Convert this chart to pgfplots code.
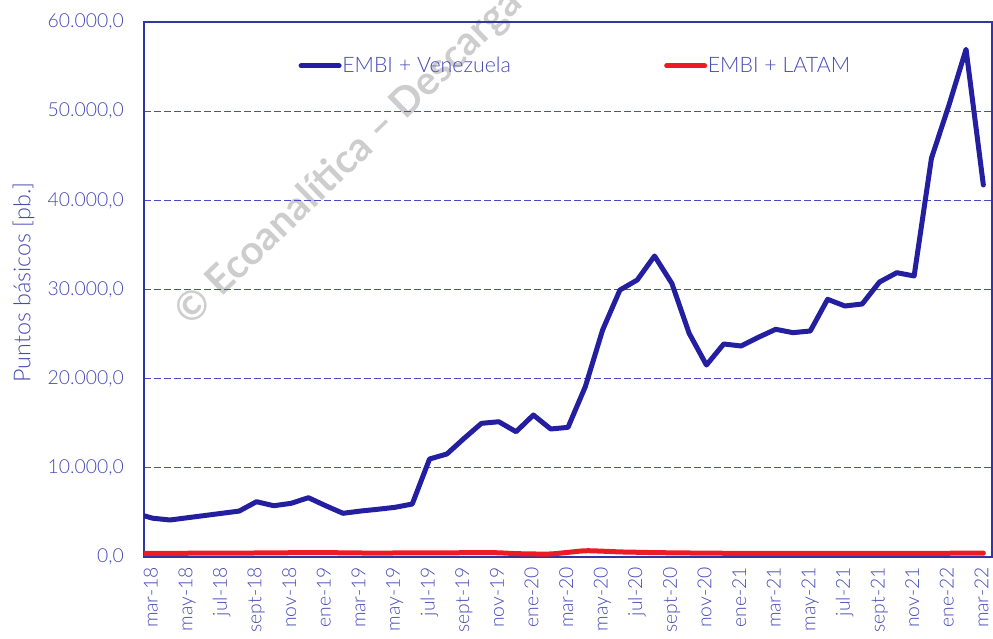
\documentclass[border=0pt]{standalone}
\usepackage{fontspec}
\setmainfont{Lato}[UprightFont={* Light}, BoldFont={* Bold}]
\usepackage{pgfplots}
\pgfplotsset{compat=1.18}
\definecolor{lineblue}{RGB}{35,31,160}
\definecolor{embired}{RGB}{237,28,36}
\definecolor{axblue}{RGB}{50,52,170}
\definecolor{gridblue}{RGB}{72,76,192}
\definecolor{txtblue}{RGB}{70,74,182}
\definecolor{wmgray}{RGB}{205,205,205}
\newcommand{\lblfont}{\fontsize{14.5}{17}\selectfont}

\begin{document}
\begin{tikzpicture}
% watermark, behind everything
\node[rotate=44, anchor=base west, text=wmgray, inner sep=0pt,
      font=\fontsize{30}{30}\selectfont\bfseries] at (35pt,172pt) {© Ecoanalítica – Descarga};
\begin{axis}[
  scale only axis,
  width=636pt, height=401.25pt,
  xmin=-0.5, xmax=48.5,
  ymin=0, ymax=60000,
  xtick={0,2,...,48},
  xticklabels={mar-18,may-18,jul-18,sept-18,nov-18,ene-19,mar-19,may-19,jul-19,sept-19,nov-19,ene-20,mar-20,may-20,jul-20,sept-20,nov-20,ene-21,mar-21,may-21,jul-21,sept-21,nov-21,ene-22,mar-22},
  ytick={0,10000,...,60000},
  scaled y ticks=false,
  ymajorgrids,
  major grid style={draw=gridblue, line width=0.75pt, dash pattern=on 5pt off 2.5pt},
  axis line style={draw=axblue, line width=0.9pt},
  tick style={draw=none},
  tick label style={font=\lblfont, text=txtblue},
  y tick label style={/pgf/number format/.cd, fixed, fixed zerofill, precision=1,
      1000 sep={.}, use comma, assume math mode=true, /tikz/.cd,
      anchor=east, inner xsep=0pt, xshift=-15pt},
  x tick label style={rotate=90, anchor=east, inner xsep=7.5pt, inner ysep=0pt,
      text height=10.5pt, text depth=3pt},
  ylabel={Puntos básicos [pb.]},
  ylabel style={at={(axis description cs:-0.142,0.513)}, anchor=center,
      font=\fontsize{17.5}{20}\selectfont, text=txtblue},
  legend style={at={(axis description cs:0.182,0.918)}, anchor=west, draw=none, fill=none,
      font=\fontsize{16}{19}\selectfont, text=txtblue, inner sep=0pt,
      nodes={inner sep=0pt},
      /tikz/every odd column/.append style={column sep=0.5pt},
      /tikz/every even column/.append style={column sep=115pt}},
  legend columns=2,
  legend image code/.code={\draw[#1, line cap=round] (0pt,0pt) -- (28.5pt,0pt);},
]
\addplot[lineblue, line width=3.75pt, line join=round, line cap=round] coordinates {
  (-1,4900) (0,4350) (1,4150) (2,4400) (3,4650) (4,4900) (5,5150) (6,6200) (7,5750)
  (8,6020) (9,6650) (10,5750) (11,4900) (12,5150) (13,5350) (14,5570) (15,5940)
  (16,10990) (17,11550) (18,13310) (19,14990) (20,15170) (21,14050) (22,15925)
  (23,14355) (24,14540) (25,19100) (26,25460) (27,29940) (28,31065) (29,33760)
  (30,30690) (31,25085) (32,21530) (33,23890) (34,23665) (35,24640) (36,25535)
  (37,25160) (38,25345) (39,28900) (40,28150) (41,28375) (42,30840) (43,31885)
  (44,31515) (45,44710) (46,50600) (47,56940) (48,41720)
};
\addlegendentry{EMBI + Venezuela}
\addplot[embired, line width=3.75pt, smooth, tension=0.5, line cap=round] coordinates {
  (-1,400) (0,400) (1,410) (2,420) (3,430) (4,430) (5,440) (6,450) (7,460)
  (8,480) (9,500) (10,490) (11,470) (12,450) (13,440) (14,450) (15,460) (16,460)
  (17,470) (18,480) (19,500) (20,470) (21,380) (22,340) (23,340) (24,520)
  (25,700) (26,650) (27,570) (28,530) (29,490) (30,470) (31,450) (32,430)
  (33,420) (34,415) (35,410) (36,410) (37,405) (38,400) (39,395) (40,400)
  (41,405) (42,405) (43,410) (44,410) (45,415) (46,420) (47,425) (48,430)
};
\addlegendentry{EMBI + LATAM}
\end{axis}
\pgfresetboundingbox
\useasboundingbox (-108pt,-61.5pt) rectangle (636.75pt,417.75pt);
\end{tikzpicture}
\end{document}
